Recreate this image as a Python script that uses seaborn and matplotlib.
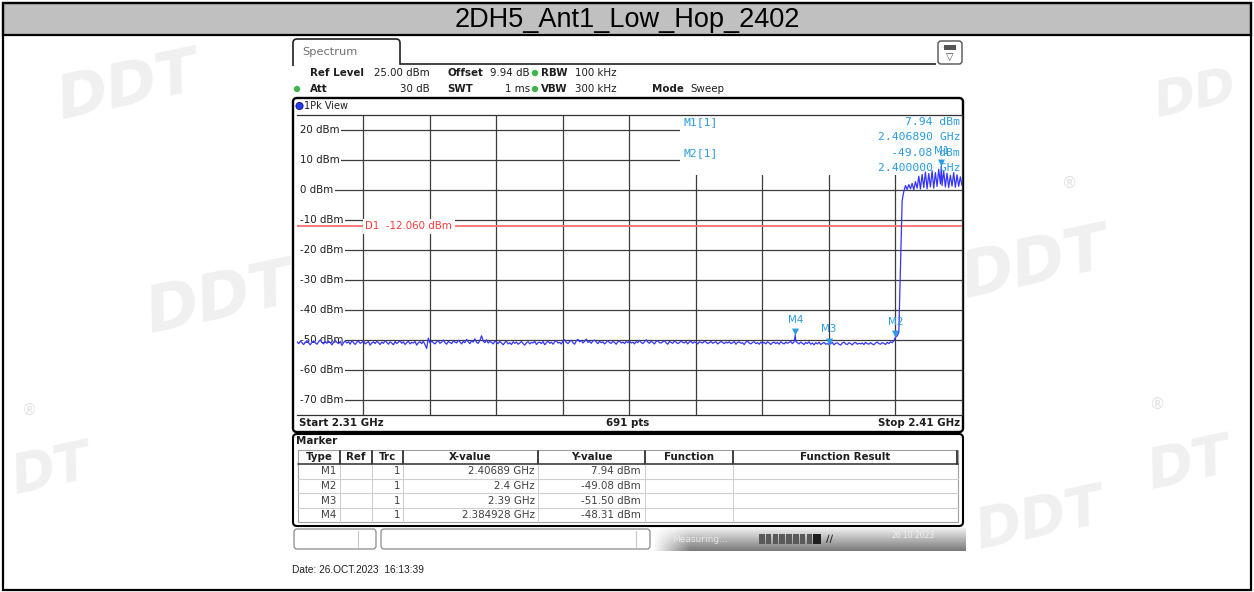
import numpy as np
import pandas as pd
import matplotlib
matplotlib.use("Agg")
import matplotlib.pyplot as plt
import matplotlib.transforms as mtransforms
from matplotlib.patches import Rectangle, FancyBboxPatch, Circle
from matplotlib.path import Path
import seaborn as sns

# ---------------------------------------------------------------- data
TITLE = "2DH5_Ant1_Low_Hop_2402"
START_MHZ = 2310.0
STOP_MHZ = 2410.0
STEP_MHZ = 0.25
SWEEP_POINTS = 691
REF_LEVEL_DBM = 25.0
BOTTOM_LEVEL_DBM = -75.0
LEVEL_LINES = [20, 10, 0, -10, -20, -30, -40, -50, -60, -70]
FREQ_LINES = [2320, 2330, 2340, 2350, 2360, 2370, 2380, 2390, 2400]
D1_LEVEL = -12.060

# trace 1 (peak), 2310.00 .. 2399.75 MHz, 0.25 MHz spacing
floor_dbm = [
    -50.6, -51.2, -50.4, -50.9, -51.5, -50.8, -50.2, -51.0, -51.6, -50.7, -50.3, -50.9, -51.4, -50.6, -49.9, -50.8, -51.3, -50.5, -51.1, -50.4,
    -50.9, -51.6, -50.7, -50.1, -50.8, -51.2, -50.5, -51.8, -50.9, -50.3, -51.0, -50.6, -51.4, -50.2, -50.9, -51.5, -50.7, -50.4, -51.1, -50.8,
    -50.3, -51.3, -50.9, -50.5, -51.7, -51.0, -50.6, -51.2, -50.4, -50.9, -51.5, -50.7, -51.1, -50.2, -50.8, -51.4, -50.6, -51.0, -51.6, -50.5,
    -51.2, -50.7, -50.3, -51.1, -50.6, -51.5, -50.9, -50.4, -51.3, -50.8, -51.0, -50.5, -51.7, -50.9, -50.6, -51.2, -50.4, -51.6, -52.8, -49.4,
    -51.0, -50.4, -50.9, -51.3, -50.6, -50.2, -51.1, -50.7, -50.0, -50.9, -51.4, -50.5, -50.8, -51.2, -50.3, -50.7, -51.0, -50.1, -50.6, -51.3,
    -50.5, -50.9, -49.8, -50.6, -51.2, -50.3, -50.7, -49.6, -50.8, -51.1, -50.2, -48.6, -50.4, -50.9, -49.9, -51.0, -50.5, -50.8, -51.3, -50.4,
    -50.7, -51.2, -50.5, -51.0, -51.6, -50.8, -50.4, -51.3, -50.9, -51.5, -50.6, -51.1, -50.7, -51.4, -51.0, -50.5, -51.2, -51.7, -50.9, -50.6,
    -51.3, -50.8, -51.0, -50.4, -51.5, -50.9, -50.7, -51.2, -50.5, -51.6, -50.9, -50.3, -51.1, -50.7, -51.4, -50.6, -50.2, -51.0, -50.8, -51.3,
    -50.4, -49.9, -50.8, -51.2, -50.5, -50.1, -50.9, -51.4, -50.3, -49.8, -50.6, -50.2, -51.0, -50.4, -49.7, -50.8, -50.5, -51.1, -50.3, -50.0,
    -50.7, -51.2, -50.4, -50.9, -50.6, -51.3, -50.8, -50.2, -50.9, -51.1, -50.5, -50.8, -51.4, -50.6, -50.3, -51.0, -50.7, -51.2, -50.5, -50.9,
    -50.4, -51.0, -50.7, -51.3, -50.5, -50.9, -50.1, -50.8, -51.2, -50.6, -49.9, -50.7, -51.1, -50.4, -50.8, -51.3, -50.5, -50.2, -50.9, -51.0,
    -50.6, -50.3, -50.9, -51.4, -50.5, -50.8, -51.1, -50.4, -50.7, -51.2, -50.9, -50.3, -50.8, -51.0, -50.5, -51.3, -50.7, -50.4, -51.1, -50.6,
    -50.9, -51.3, -50.6, -50.8, -51.0, -50.4, -50.7, -51.2, -50.9, -50.5, -51.1, -50.8, -50.6, -51.3, -50.9, -50.5, -50.8, -51.2, -50.7, -51.0,
    -50.6, -51.2, -50.9, -50.5, -51.4, -50.8, -50.6, -51.1, -50.9, -51.5, -50.7, -50.4, -51.0, -51.3, -50.8, -50.6, -51.2, -50.9, -51.4, -50.7,
    -51.1, -50.8, -51.3, -50.6, -51.0, -51.5, -50.9, -50.7, -51.2, -50.8, -51.4, -50.6, -51.0, -51.3, -50.7, -51.1, -50.8, -50.5, -51.2, -50.6,
    -50.4, -50.9, -51.3, -50.7, -51.1, -51.5, -50.8, -51.2, -50.6, -51.4, -51.0, -51.6, -50.9, -51.3, -50.7, -51.5, -51.1, -50.8, -51.4, -51.2,
    -51.5, -51.2, -50.8, -51.6, -51.1, -50.9, -51.4, -51.7, -51.0, -50.7, -51.3, -51.5, -50.9, -51.2, -51.6, -51.0, -50.8, -51.4, -51.1, -51.3,
    -51.0, -51.5, -50.8, -51.2, -51.4, -50.9, -51.3, -51.6, -51.0, -50.7, -51.2, -51.4, -50.9, -51.1, -51.5, -50.8, -51.2, -50.6, -50.9, -50.3,
]
# band edge, 2400.00 .. 2401.00 MHz
edge_dbm = [-49.1, -48.6, -47.4, -25.0, -3.5]
# in-band hopping signal, 2401.25 .. 2410.00 MHz
band_dbm = [
    -0.5, 1.5, 0.2, 1.8, 0.4, 2.2, 0.1, 2.8, 0.6, 4.6, 0.3, 5.2,
    0.8, 6.0, 0.4, 5.5, 1.0, 6.4, 0.6, 5.8, 1.2, 6.9, 2.0, 1.5,
    6.2, 1.0, 5.6, 0.8, 4.9, 1.3, 5.8, 0.9, 5.1, 1.2, 4.4, 1.5,
]

# marker table
marker_names = ["M1", "M2", "M3", "M4"]
marker_ghz = [2.40689, 2.4, 2.39, 2.384928]
marker_dbm = [7.94, -49.08, -51.50, -48.31]
marker_trc = [1, 1, 1, 1]

# ---------------------------------------------------------------- trace frame
levels = floor_dbm + edge_dbm + band_dbm
grid_mhz = np.round(START_MHZ + STEP_MHZ * np.arange(len(levels)), 4)
trace = pd.DataFrame({"freq_mhz": grid_mhz, "level_dbm": levels})
marks = pd.DataFrame({"freq_mhz": np.round(np.array(marker_ghz) * 1000.0, 4),
                      "level_dbm": marker_dbm})
trace = (pd.concat([marks, trace])
         .drop_duplicates("freq_mhz", keep="first")
         .sort_values("freq_mhz")
         .reset_index(drop=True))

# ---------------------------------------------------------------- figure
W, H = 1254, 592
sns.set_theme(style="white")
plt.rcParams["font.family"] = ["DejaVu Sans"]

fig = plt.figure(figsize=(W / 100, H / 100), dpi=100)
fig.patch.set_facecolor("white")

# pixel canvas for the page furniture (y grows downward)
bg = fig.add_axes([0, 0, 1, 1], zorder=0)
bg.set_xlim(0, W)
bg.set_ylim(H, 0)
bg.axis("off")

TXT = "#1e1e1e"
MK_BLUE = "#2a9be0"
TRACE_BLUE = "#3535ff"
GRID = "#3c3c3c"
FS = 7.4

# faint logo watermarks
for (x, y, s, txt) in [(128, 88, 44, "DDT"), (1196, 95, 36, "DD"), (220, 300, 46, "DDT"),
                       (1035, 265, 46, "DDT"), (52, 470, 38, "DT"), (1040, 520, 40, "DDT"),
                       (1190, 465, 40, "DT")]:
    bg.text(x, y, txt, fontsize=s, fontweight="bold", fontstyle="italic",
            color="#f0f0f0", ha="center", va="center", rotation=12, zorder=0.1)
for (x, y) in [(1070, 183), (30, 410), (1158, 404)]:
    bg.text(x, y, "\u00ae", fontsize=11, color="#e2e2e2", ha="center", va="center", zorder=0.1)

# outer frame and title band
bg.add_patch(Rectangle((3, 3), 1248, 32, fc="#c0c0c0", ec="black", lw=1.6, zorder=1))
bg.add_patch(Rectangle((3, 3), 1248, 587, fill=False, ec="black", lw=1.6, zorder=1))
bg.text(627, 20, TITLE, fontsize=19.5, family=["Liberation Sans", "DejaVu Sans"],
        ha="center", va="center", color="black", zorder=2)

# instrument screen background
bg.add_patch(Rectangle((291, 37), 676, 518, fc="white", ec="none", zorder=0.5))

# tab
tab = Path([(293, 66), (293, 43), (293, 39), (297, 39), (396, 39), (400, 39), (400, 43),
            (400, 64), (936, 64)],
           [Path.MOVETO, Path.LINETO, Path.CURVE3, Path.CURVE3, Path.LINETO, Path.CURVE3,
            Path.CURVE3, Path.LINETO, Path.LINETO])
bg.add_patch(matplotlib.patches.PathPatch(tab, fill=False, ec="#202020", lw=1.2, zorder=2))
bg.text(302, 52, "Spectrum", fontsize=8.2, color="#707070", ha="left", va="center", zorder=2)
bg.add_patch(FancyBboxPatch((938, 41), 24, 23, boxstyle="round,pad=0,rounding_size=3",
                            fc="white", ec="#505050", lw=1.0, zorder=2))
bg.add_patch(Rectangle((944, 45), 12, 5, fc="#555555", ec="none", zorder=3))
bg.text(950, 57, "\u25bd", fontsize=7, color="#404040", ha="center", va="center", zorder=3)

# setting lines
GREEN = "#3db54a"
def bold(x, y, s, ha="left"):
    bg.text(x, y, s, fontsize=FS, fontweight="bold", color=TXT, ha=ha, va="center", zorder=2)
def plain(x, y, s, ha="left"):
    bg.text(x, y, s, fontsize=FS, color=TXT, ha=ha, va="center", zorder=2)

bold(310, 73, "Ref Level"); plain(430, 73, f"{REF_LEVEL_DBM:.2f} dBm", ha="right")
bold(447, 73, "Offset"); plain(530, 73, "9.94 dB", ha="right")
bold(541, 73, "RBW"); plain(575, 73, "100 kHz")
bold(310, 89, "Att"); plain(430, 89, "30 dB", ha="right")
bold(447, 89, "SWT"); plain(530, 89, "1 ms", ha="right")
bold(541, 89, "VBW"); plain(575, 89, "300 kHz")
bold(652, 89, "Mode"); plain(690, 89, "Sweep")
for (cx, cy) in [(535, 73), (297, 89), (535, 89)]:
    bg.add_patch(Circle((cx, cy), 3.2, fc=GREEN, ec="none", zorder=2))

# diagram frame
bg.add_patch(FancyBboxPatch((293, 98), 670, 334, boxstyle="round,pad=0,rounding_size=4",
                            fc="white", ec="black", lw=1.7, zorder=1))
bg.add_patch(Circle((299.5, 106), 3.6, fc="#1f3cff", ec="#101060", lw=0.6, zorder=2))
bg.text(304, 106, "1Pk View", fontsize=7.0, color=TXT, ha="left", va="center", zorder=2)
bold(299, 423, f"Start {START_MHZ / 1000:.2f} GHz")
bold(628, 423, f"{SWEEP_POINTS} pts", ha="center")
bold(960, 423, f"Stop {STOP_MHZ / 1000:.2f} GHz", ha="right")

# ---------------------------------------------------------------- spectrum diagram
ax = fig.add_axes([297 / W, 1 - 415 / H, 665 / W, 300 / H], zorder=1)
ax.set_facecolor("white")
ax.set_xlim(START_MHZ, STOP_MHZ)
ax.set_ylim(BOTTOM_LEVEL_DBM, REF_LEVEL_DBM)
ax.set_xticks([])
ax.set_yticks([])
for sp in ax.spines.values():
    sp.set_color("#303030")
    sp.set_linewidth(0.9)
ax.spines["left"].set_visible(False)

for lvl in LEVEL_LINES:
    ax.axhline(lvl, color=GRID, lw=0.9, zorder=1)
for f in FREQ_LINES:
    ax.axvline(f, color=GRID, lw=0.9, zorder=1)

# marker readout area hides the grid behind it
ax.add_patch(Rectangle((2367.6, 5.0), STOP_MHZ - 2367.6, REF_LEVEL_DBM - 5.0,
                       fc="white", ec="none", zorder=2))

# level labels sit on a white strip at the left edge of the grid
ylab = mtransforms.blended_transform_factory(ax.transAxes, ax.transData)
for lvl in LEVEL_LINES:
    ax.text(0.0045, lvl, f"{lvl} dBm", transform=ylab, fontsize=FS, color=TXT,
            ha="left", va="center", zorder=3,
            bbox=dict(boxstyle="square,pad=0.15", fc="white", ec="none"))
    ax.add_patch(Rectangle((0.0, lvl - 1.5), 0.008, 3.0, transform=ylab,
                           fc="white", ec="none", zorder=2.9))

# display line D1
ax.axhline(D1_LEVEL, color="#ff7070", lw=1.3, zorder=3.5)
ax.text(2320.3, D1_LEVEL, f"D1  {D1_LEVEL:.3f} dBm", fontsize=FS, color="#ff3a3a",
        ha="left", va="center", zorder=3.6,
        bbox=dict(boxstyle="square,pad=0.25", fc="white", ec="none"))

# trace
sns.lineplot(data=trace, x="freq_mhz", y="level_dbm", ax=ax, color=TRACE_BLUE,
             lw=0.9, estimator=None, zorder=4)
ax.set_xlabel("")
ax.set_ylabel("")

# markers: triangle tip sits on the trace value
tip = Path([(-0.6, 1.2), (0.6, 1.2), (0.0, 0.0), (-0.6, 1.2)],
           [Path.MOVETO, Path.LINETO, Path.LINETO, Path.CLOSEPOLY])
mk_mhz = [g * 1000.0 for g in marker_ghz]
ax.scatter(mk_mhz, marker_dbm, marker=tip, s=100, color=MK_BLUE, linewidths=0, zorder=5)
for name, fx, lv in zip(marker_names, mk_mhz, marker_dbm):
    ax.annotate(name, (fx, lv), xytext=(0, 7.5), textcoords="offset points",
                ha="center", va="bottom", fontsize=FS, color=MK_BLUE, zorder=5)

# marker readout
MONO = ["DejaVu Sans Mono"]
for i, (name, yf) in enumerate([("M1[1]", 0.977), ("M2[1]", 0.873)]):
    ax.text(0.581, yf, name, transform=ax.transAxes, family=MONO, fontsize=8.2,
            color=MK_BLUE, ha="left", va="center", zorder=4)
    ax.text(0.997, yf, f"{marker_dbm[i]:.2f} dBm", transform=ax.transAxes, family=MONO,
            fontsize=8.2, color=MK_BLUE, ha="right", va="center", zorder=4)
    ax.text(0.997, yf - 0.05, f"{marker_ghz[i]:.6f} GHz", transform=ax.transAxes,
            family=MONO, fontsize=8.2, color=MK_BLUE, ha="right", va="center", zorder=4)

# ---------------------------------------------------------------- marker table
bg.add_patch(FancyBboxPatch((293, 434), 670, 92, boxstyle="round,pad=0,rounding_size=4",
                            fc="white", ec="black", lw=1.5, zorder=1))
bold(296, 441, "Marker")
col_x = [298, 340, 372, 403, 538, 645, 733, 958]
row_y = [450, 464, 479, 493, 508, 522]
bg.add_patch(Rectangle((298, 450), 660, 72, fill=False, ec="#a0a0a0", lw=0.8, zorder=2))
for y in row_y[2:-1]:
    bg.plot([298, 958], [y, y], color="#cfcfcf", lw=0.8, zorder=2)
bg.plot([298, 958], [464, 464], color="#404040", lw=1.2, zorder=2)
for x in col_x[1:-1]:
    bg.plot([x, x], [464, 522], color="#cfcfcf", lw=0.8, zorder=2)
    bg.plot([x, x], [451, 464], color="#303030", lw=1.3, zorder=2)
bg.plot([957, 957], [451, 464], color="#303030", lw=1.3, zorder=2)
headers = ["Type", "Ref", "Trc", "X-value", "Y-value", "Function", "Function Result"]
for h, x0, x1 in zip(headers, col_x[:-1], col_x[1:]):
    bold((x0 + x1) / 2, 457.5, h, ha="center")
for r, (name, trc, fx, lv) in enumerate(zip(marker_names, marker_trc, marker_ghz, marker_dbm)):
    yc = (row_y[r + 1] + row_y[r + 2]) / 2
    xs = np.format_float_positional(fx, trim="-")
    bg.text(336, yc, name, fontsize=FS, color="#404040", ha="right", va="center", zorder=3)
    bg.text(400, yc, str(trc), fontsize=FS, color="#404040", ha="right", va="center", zorder=3)
    bg.text(535, yc, f"{xs} GHz", fontsize=FS, color="#404040", ha="right", va="center", zorder=3)
    bg.text(641, yc, f"{lv:.2f} dBm", fontsize=FS, color="#404040", ha="right", va="center", zorder=3)

# ---------------------------------------------------------------- status bar
bg.add_patch(FancyBboxPatch((294, 529), 82, 20, boxstyle="round,pad=0,rounding_size=3",
                            fc="white", ec="#8a8a8a", lw=0.9, zorder=2))
bg.plot([358, 358], [531, 547], color="#c8c8c8", lw=0.8, zorder=3)
bg.add_patch(FancyBboxPatch((381, 529), 269, 20, boxstyle="round,pad=0,rounding_size=3",
                            fc="white", ec="#8a8a8a", lw=0.9, zorder=2))
bg.plot([636, 636], [531, 547], color="#c8c8c8", lw=0.8, zorder=3)
gx = np.linspace(0, 1, 300)
gy = np.linspace(0, 1, 24)[:, None]
fade = np.clip(gx / 0.12, 0, 1)[None, :]
shade = 0.93 - 0.45 * gy
img = 1.0 - fade * (1.0 - shade)
bg.imshow(img, cmap="gray", vmin=0, vmax=1, extent=(652, 966, 551, 528),
          aspect="auto", zorder=1.5, interpolation="bilinear")
bg.text(672, 539, "Measuring...", fontsize=6.5, color="#e8e8e8", ha="left", va="center", zorder=3)
for k in range(8):
    bg.add_patch(Rectangle((759 + k * 6.8, 534), 5.6, 10, fc="#5a5a5a", ec="none", zorder=3))
bg.add_patch(Rectangle((813, 534), 8, 10, fc="#1e1e1e", ec="none", zorder=3))
bg.text(830, 539, "\u2215\u2215", fontsize=7, fontweight="bold", color="#2a2a2a",
        ha="center", va="center", zorder=3)
bg.text(913, 535, "26.10.2023", fontsize=5.5, color="#f0f0f0", ha="center", va="center", zorder=3)

bg.text(292, 570, "Date: 26.OCT.2023  16:13:39", fontsize=7.3,
        family=["Liberation Sans", "DejaVu Sans"], color="#202020", ha="left", va="center", zorder=2)

fig.savefig("out.png", dpi=100, facecolor="white")
